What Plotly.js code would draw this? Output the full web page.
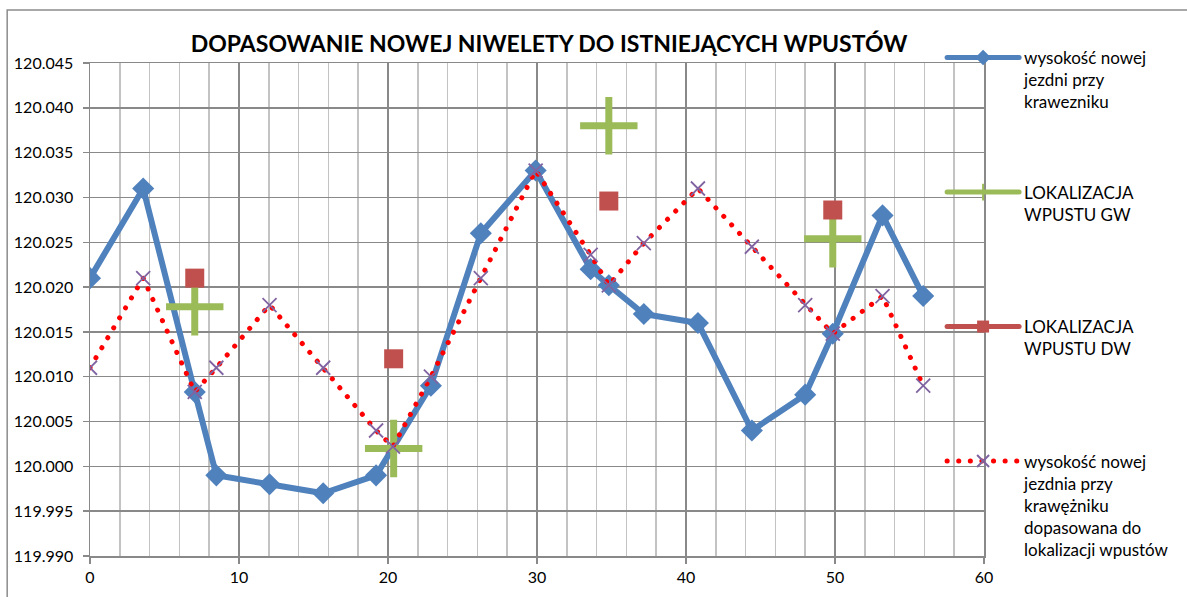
<!DOCTYPE html>
<html>
<head>
<meta charset="utf-8">
<script src="https://cdn.plot.ly/plotly-3.0.1.min.js"></script>
<style>
html,body{margin:0;padding:0;background:#fff;}
#chart{width:1187px;height:597px;}
path.js-line{stroke-linecap:round;stroke-linejoin:round;}
</style>
</head>
<body>
<div id="chart"></div>
<script>
// Stations (x) shared by the series
const stationsBlue = [0, 3.57, 7.03, 8.48, 12.05, 15.65, 19.2, 22.88, 26.23, 29.91, 33.6, 34.82, 37.17, 40.8, 44.42, 48.0, 49.85, 53.19, 55.92];
const heightBlue   = [120.021, 120.031, 120.0083, 119.999, 119.998, 119.997, 119.999, 120.009, 120.026, 120.033, 120.022, 120.0202, 120.017, 120.016, 120.004, 120.008, 120.0148, 120.028, 120.019];

const stationsFit = [0, 3.57, 7.03, 8.48, 12.05, 15.65, 19.2, 20.33, 22.88, 26.23, 29.91, 33.6, 34.82, 37.17, 40.8, 44.42, 48.0, 49.85, 53.19, 55.92];
const heightFit   = [120.011, 120.021, 120.0083, 120.011, 120.018, 120.011, 120.004, 120.0022, 120.010, 120.021, 120.033, 120.0236, 120.0202, 120.0249, 120.031, 120.0245, 120.018, 120.0148, 120.019, 120.009];

const stationsInlet = [7.03, 20.38, 34.82, 49.85];
const heightGW      = [120.0178, 120.002, 120.038, 120.0254];
const heightDW      = [120.021, 120.012, 120.0296, 120.0286];

const seriesNames = [
  "wysokość nowej<br>jezdni przy<br>krawezniku",
  "LOKALIZACJA<br>WPUSTU GW",
  "LOKALIZACJA<br>WPUSTU DW",
  "wysokość nowej<br>jezdnia przy<br>krawężniku<br>dopasowana do<br>lokalizacji wpustów"
];
const chartTitle = "DOPASOWANIE NOWEJ NIWELETY DO ISTNIEJĄCYCH WPUSTÓW";

// separate isolated points by gaps so no connecting line is drawn
function gapped(arr){ const out=[]; arr.forEach((v,i)=>{ if(i) out.push(null); out.push(v); }); return out; }
function pad(name, lines){ const n = name.split('<br>').length; let s = name; for(let i=n;i<lines;i++) s += '<br> '; return s; }

const traces = [
  {x: stationsBlue, y: heightBlue, name: pad(seriesNames[0],5), legendgroup:'a', mode:'lines+markers',
   line:{color:'#4F81BD', width:6}, marker:{symbol:'diamond', size:17, color:'#4F81BD'}},
  {x: gapped(stationsInlet), y: gapped(heightGW), name: pad(seriesNames[1],5), legendgroup:'b', mode:'lines+markers', connectgaps:false,
   line:{color:'#9BBB59', width:5}, marker:{symbol:'cross-thin', size:41, line:{color:'#9BBB59', width:7}, color:'#9BBB59'}},
  {x: gapped(stationsInlet), y: gapped(heightDW), name: pad(seriesNames[2],5), legendgroup:'c', mode:'lines+markers', connectgaps:false,
   line:{color:'#C0504D', width:5}, marker:{symbol:'square', size:19, color:'#C0504D'}},
  {x: stationsFit, y: heightFit, name: seriesNames[3], legendgroup:'d', mode:'lines+markers',
   line:{color:'#FF0000', width:5, dash:'0.1px,11.5px'}, marker:{symbol:'x-thin', size:14, line:{color:'#8064A2', width:1.8}, color:'#8064A2'}}
];

const L=90, R=201, T=63, B=41, W=1187, H=597;
const pw=W-L-R, ph=H-T-B;
const layout = {
  width: W, height: H,
  margin:{l:L, r:R, t:T, b:B, pad:0},
  paper_bgcolor:'#fff', plot_bgcolor:'#fff',
  font:{family:'Lato, "DejaVu Sans", sans-serif', size:16, color:'#000'},
  title:{text: chartTitle, font:{family:'Lato', size:23, weight:'bold', color:'#000'},
         xref:'container', x:549/W, xanchor:'center', yref:'container', y:1-44/H, yanchor:'middle'},
  xaxis:{range:[0,60], dtick:10, tick0:0, showgrid:true, gridcolor:'#898989', gridwidth:1.5,
         minor:{dtick:2, showgrid:true, gridcolor:'#c3c3c3', gridwidth:1.5},
         zeroline:false, showline:true, mirror:true, linecolor:'#898989', linewidth:1.5,
         ticks:'outside', ticklen:6, tickcolor:'#898989', tickwidth:1.5,
         tickfont:{family:'Lato', size:16, color:'#000'}},
  yaxis:{range:[119.99,120.045], dtick:0.005, tick0:119.99, tickformat:'.3f', showgrid:true, gridcolor:'#898989', gridwidth:1.5,
         zeroline:false, showline:true, mirror:true, linecolor:'#898989', linewidth:1.5,
         ticks:'outside', ticklen:6, tickcolor:'#898989', tickwidth:1.5, ticklabelstandoff:6,
         tickfont:{family:'Lato', size:16, color:'#000'}},
  legend:{x:(944-L)/pw, xanchor:'left', y:1+(T-40)/ph, yanchor:'top', valign:'top',
          itemwidth:72, itemsizing:'constant', tracegroupgap:21, maxheight:1, bgcolor:'rgba(0,0,0,0)', borderwidth:0,
          font:{family:'Lato', size:17, color:'#000'}},
  shapes:[{type:'rect', xref:'paper', yref:'paper', x0:(7-L)/pw, x1:(W+20-L)/pw, y0:(H-B-(H+20))/ph, y1:(H-B-10)/ph,
           line:{color:'#8c8c8c', width:1.5}, fillcolor:'rgba(0,0,0,0)', layer:'below'}],
  showlegend:true
};
Plotly.newPlot('chart', traces, layout, {displayModeBar:false, staticPlot:true});
</script>
</body>
</html>
